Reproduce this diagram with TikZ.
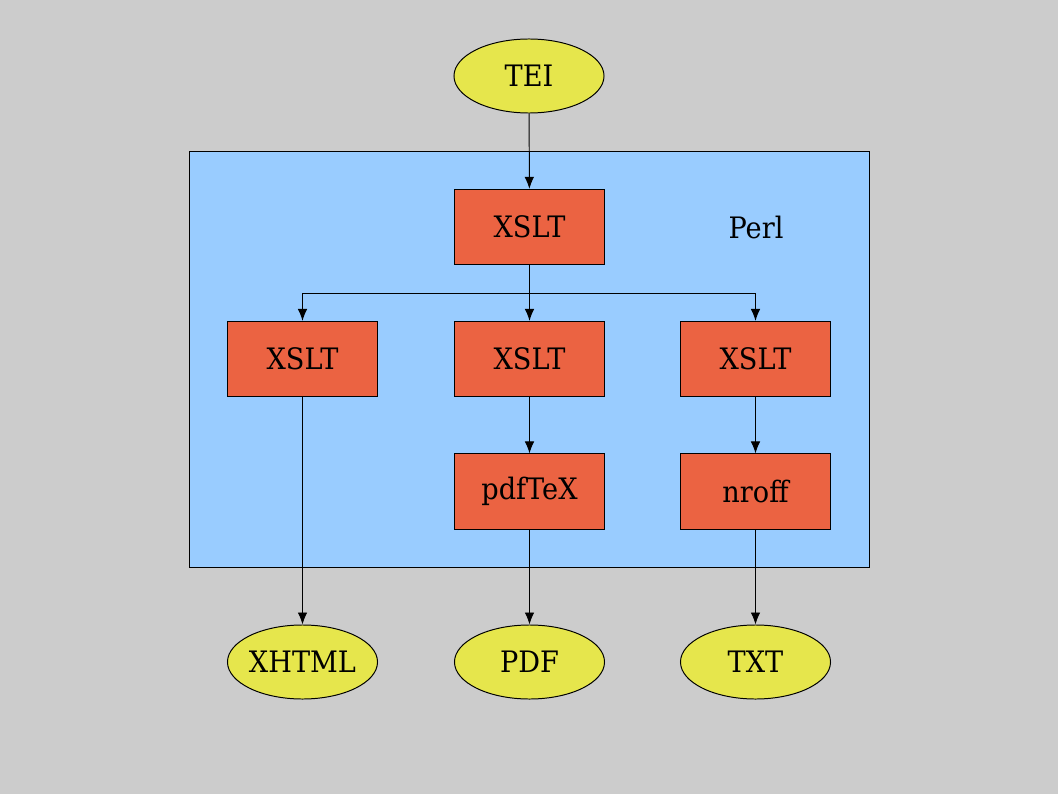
\documentclass[tikz,border=0pt]{standalone}
\usepackage{fontspec}
\setmainfont[FakeStretch=0.92]{DejaVu Serif}
\usetikzlibrary{shapes.geometric,arrows.meta}

\definecolor{bggray}{HTML}{CCCCCC}
\definecolor{perlblue}{HTML}{99CCFF}
\definecolor{toolred}{HTML}{EB6342}
\definecolor{docyellow}{HTML}{E6E64C}

\begin{document}
\begin{tikzpicture}[x=0.025cm,y=-0.025cm,
  line width=0.7pt,
  font=\fontsize{21}{25}\selectfont,
  doc/.style={ellipse, fill=docyellow, draw=black, minimum width=3.75cm, minimum height=1.85cm, inner xsep=-0.3cm, inner ysep=0pt},
  tool/.style={rectangle, fill=toolred, draw=black, minimum width=3.77cm, minimum height=1.88cm, inner sep=0pt},
  flow/.style={-{Latex[length=0.3cm,width=0.24cm]}}]
\fill[bggray] (0,0) rectangle (1058,794);
\useasboundingbox (0,0) rectangle (1058,794);

\filldraw[perlblue, draw=black] (189,151) rectangle (869,567);
\node (perl) at (756,227) {Perl};

\node[doc] (tei) at (529,76) {TEI};
\node[tool] (xtop) at (529.5,227) {XSLT};

\node[tool] (xleft) at (302.5,359) {XSLT};
\node[tool] (xmid) at (529.5,359) {XSLT};
\node[tool] (xright) at (755.5,359) {XSLT};

\node[tool] (pdftex) at (529.5,491.5) {pdfTeX};
\node[tool] (nroff) at (755.5,491.5) {nroff};

\node[doc] (xhtml) at (302.5,662) {XHTML};
\node[doc] (pdf) at (529.5,662) {PDF};
\node[doc] (txt) at (755.5,662) {TXT};

\coordinate (split) at (529.5,293);
\draw[flow] (tei) -- (xtop);
\draw (xtop) -- (split);
\draw[flow] (split) -| (xleft);
\draw[flow] (split) -- (xmid);
\draw[flow] (split) -| (xright);
\draw[flow] (xleft) -- (xhtml);
\draw[flow] (xmid) -- (pdftex);
\draw[flow] (xright) -- (nroff);
\draw[flow] (pdftex) -- (pdf);
\draw[flow] (nroff) -- (txt);

\end{tikzpicture}
\end{document}
